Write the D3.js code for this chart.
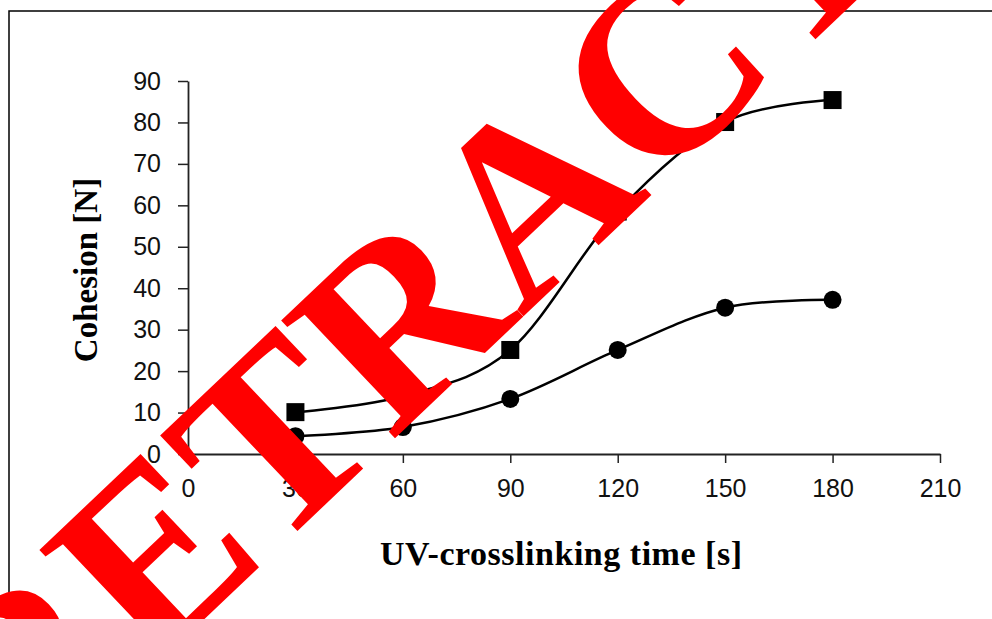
<!DOCTYPE html>
<html>
<head>
<meta charset="utf-8">
<script src="https://cdn.jsdelivr.net/npm/d3@7"></script>
<style>
  body { margin: 0; background: #fff; }
  svg { display: block; }
</style>
</head>
<body>
<script>
// data
const times = [30, 60, 90, 120, 150, 180]
const squares = [10.1, 14, 25.1, 58.5, 80.1, 85.4]
const circles = [4.3, 6.5, 13.3, 25.1, 35.3, 37.2]
const xTicks = [0, 30, 60, 90, 120, 150, 180, 210]
const yTicks = [0, 10, 20, 30, 40, 50, 60, 70, 80, 90]

let width = 992, height = 619

let svg = d3.select("body")
  .append("svg")
  .attr("width", width)
  .attr("height", height)

// frame around the figure
svg.append("path")
  .attr("d", "M9,619 L9,11 L992,11")
  .attr("fill", "none")
  .attr("stroke", "#000")
  .attr("stroke-width", 1.5)

let x = d3.scaleLinear().domain([0, 210]).range([188, 940])
let y = d3.scaleLinear().domain([0, 90]).range([454, 81])

let xAxis = svg.append("g")
  .attr("transform", "translate(0," + y(0) + ")")
  .call(d3.axisBottom(x).tickValues(xTicks).tickSize(9).tickPadding(16).tickSizeOuter(0))
let yAxis = svg.append("g")
  .attr("transform", "translate(" + x(0) + ",0)")
  .call(d3.axisLeft(y).tickValues(yTicks).tickSize(10).tickPadding(17).tickSizeOuter(0))

for (let ax of [xAxis, yAxis]) {
  ax.select(".domain").attr("stroke", "#222").attr("stroke-width", 1.8)
  ax.selectAll(".tick line").attr("stroke", "#222").attr("stroke-width", 1.5)
  ax.selectAll(".tick text")
    .attr("fill", "#111")
    .style("font-family", "'Liberation Sans', Arial, sans-serif")
    .style("font-size", "25px")
}

// smooth lines like the spreadsheet ones
let line = d3.line()
  .x(d => x(d[0]))
  .y(d => y(d[1]))
  .curve(d3.curveCardinal.tension(0))

let sqData = times.map((t, i) => [t, squares[i]])
let ciData = times.map((t, i) => [t, circles[i]])

svg.append("path").datum(sqData)
  .attr("d", line).attr("fill", "none").attr("stroke", "#000").attr("stroke-width", 2.5)
svg.append("path").datum(ciData)
  .attr("d", line).attr("fill", "none").attr("stroke", "#000").attr("stroke-width", 2.5)

svg.append("g").selectAll("rect")
  .data(sqData)
  .enter()
  .append("rect")
  .attr("x", d => x(d[0]) - 9)
  .attr("y", d => y(d[1]) - 9)
  .attr("width", 18)
  .attr("height", 18)
  .attr("fill", "#000")

svg.append("g").selectAll("circle")
  .data(ciData)
  .enter()
  .append("circle")
  .attr("cx", d => x(d[0]))
  .attr("cy", d => y(d[1]))
  .attr("r", 9)
  .attr("fill", "#000")

// axis titles
svg.append("text")
  .attr("x", 380)
  .attr("y", 565)
  .attr("textLength", 362)
  .attr("lengthAdjust", "spacing")
  .style("font-family", "'Liberation Serif', 'Times New Roman', serif")
  .style("font-weight", "bold")
  .style("font-size", "34px")
  .text("UV-crosslinking time [s]")

svg.append("text")
  .attr("transform", "translate(97,270) rotate(-90)")
  .attr("text-anchor", "middle")
  .style("font-family", "'Liberation Serif', 'Times New Roman', serif")
  .style("font-weight", "bold")
  .style("font-size", "33px")
  .text("Cohesion [N]")

// watermark on top
let wm = svg.append("text")
  .attr("transform", "translate(18,796) rotate(-43.5)")
  .attr("fill", "#ff0000")
  .style("font-family", "'Liberation Serif', 'Times New Roman', serif")
  .style("font-weight", "bold")
  .style("font-size", "250px")
wm.append("tspan").text("RETRAC")
wm.append("tspan").attr("dx", 6).text("TED")
</script>
</body>
</html>
